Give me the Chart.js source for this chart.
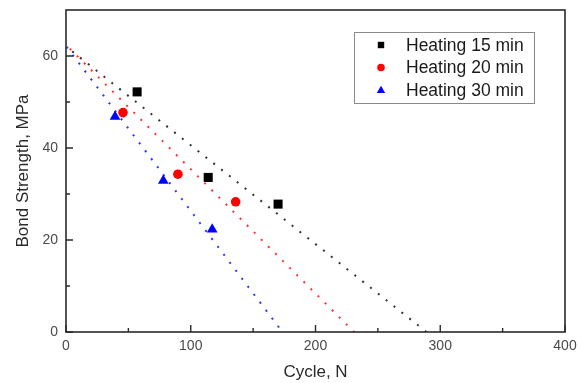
<!DOCTYPE html>
<html>
<head>
<meta charset="utf-8">
<script src="https://cdn.jsdelivr.net/npm/chart.js@4/dist/chart.umd.min.js"></script>
<style>
  html, body { margin: 0; padding: 0; background: #fff; }
  #wrap { width: 583px; height: 383px; position: relative; }
</style>
</head>
<body>
<div id="wrap"><canvas id="grafica"></canvas></div>
<script>
// measured points
var labels15 = 'Heating 15 min';
var labels20 = 'Heating 20 min';
var labels30 = 'Heating 30 min';
var ciclos15 = [57, 114, 170];
var fuerza15 = [52.2, 33.6, 27.8];
var ciclos20 = [45.7, 89.7, 136];
var fuerza20 = [47.7, 34.3, 28.3];
var ciclos30 = [39.3, 78, 117.2];
var fuerza30 = [46.8, 32.9, 22.3];
// end points of the fitted dotted lines
var ajusteX15 = [5, 289];
var ajusteY15 = [61, 0];
var ajusteX20 = [3, 231];
var ajusteY20 = [61.6, 0];
var ajusteX30 = [0.5, 173.5];
var ajusteY30 = [62, 0];
var ticksX = [0, 100, 200, 300, 400];
var ticksY = [0, 20, 40, 60];

function pares(xs, ys){
    var out = [];
    for (var i = 0; i < xs.length; i++){
        out.push({x: xs[i], y: ys[i]});
    }
    return out;
}

function serie(label, xs, ys, color, estilo, radio){
    return {
        label: label,
        data: pares(xs, ys),
        showLine: false,
        pointStyle: estilo,
        pointRadius: radio,
        pointHoverRadius: radio,
        backgroundColor: color,
        borderColor: color,
        borderWidth: 0,
        esLeyenda: true,
        order: 1
    };
}

function ajuste(xs, ys, color){
    return {
        label: '',
        data: pares(xs, ys),
        showLine: true,
        pointRadius: 0,
        borderColor: color,
        borderWidth: 2,
        borderDash: [2, 8],
        fill: false,
        order: 2
    };
}

function marcador(ctx, estilo, x, y, r, color){
    ctx.fillStyle = color;
    ctx.beginPath();
    if (estilo == 'rect'){
        ctx.rect(x - r, y - r, 2 * r, 2 * r);
    } else if (estilo == 'circle'){
        ctx.arc(x, y, r, 0, Math.PI * 2);
    } else {
        ctx.moveTo(x, y - r * 1.1);
        ctx.lineTo(x + r * 1.1, y + r * 0.8);
        ctx.lineTo(x - r * 1.1, y + r * 0.8);
        ctx.closePath();
    }
    ctx.fill();
}

// frame, inward ticks and legend box
var decoracion = {
    id: 'decoracion',
    afterDraw: function(chart){
        var ctx = chart.ctx;
        var a = chart.chartArea;
        var sx = chart.scales.x, sy = chart.scales.y;
        ctx.save();
        ctx.strokeStyle = '#2a2a2a';
        ctx.lineWidth = 1.6;
        ctx.strokeRect(a.left, a.top, a.right - a.left, a.bottom - a.top);
        ctx.lineWidth = 1.4;
        ctx.beginPath();
        for (var v = 0; v <= 400; v += 50){
            var px = sx.getPixelForValue(v);
            var l = (v % 100 == 0) ? 7 : 4;
            ctx.moveTo(px, a.bottom);
            ctx.lineTo(px, a.bottom - l);
        }
        for (var w = 0; w <= 60; w += 10){
            var py = sy.getPixelForValue(w);
            var m = (w % 20 == 0) ? 7 : 4;
            ctx.moveTo(a.left, py);
            ctx.lineTo(a.left + m, py);
        }
        ctx.stroke();

        // legend
        var bx = 354, by = 32, bw = 180, bh = 71;
        ctx.fillStyle = '#fff';
        ctx.fillRect(bx, by, bw, bh);
        ctx.strokeStyle = '#8a8a8a';
        ctx.lineWidth = 1;
        ctx.strokeRect(bx + 0.5, by + 0.5, bw, bh);
        var items = chart.data.datasets.filter(function(d){ return d.esLeyenda; });
        ctx.font = '17.5px "Liberation Sans", Arial, sans-serif';
        ctx.textBaseline = 'middle';
        ctx.textAlign = 'left';
        for (var i = 0; i < items.length; i++){
            var yy = 45 + i * 22.5;
            var r = items[i].pointStyle == 'rect' ? 3.2 : 3.8;
            marcador(ctx, items[i].pointStyle, 381, yy, r, items[i].backgroundColor);
            ctx.fillStyle = '#1a1a1a';
            ctx.fillText(items[i].label, 406, yy + 1);
        }
        ctx.restore();
    }
};

var ctx = document.getElementById('grafica').getContext('2d');
var myChart = new Chart(ctx, {
    type: 'scatter',
    data: {
        datasets: [
            serie(labels15, ciclos15, fuerza15, '#000000', 'rect', 6.4),
            serie(labels20, ciclos20, fuerza20, '#ff0000', 'circle', 4.8),
            serie(labels30, ciclos30, fuerza30, '#0000ff', 'triangle', 6.2),
            ajuste(ajusteX15, ajusteY15, '#333333'),
            ajuste(ajusteX20, ajusteY20, '#ff3333'),
            ajuste(ajusteX30, ajusteY30, '#3333ff')
        ]
    },
    options: {
        responsive: true,
        maintainAspectRatio: false,
        animation: false,
        layout: {
            padding: {top: 10, right: 18, left: 0, bottom: 0}
        },
        scales: {
            x: {
                type: 'linear',
                min: 0,
                max: 400,
                afterFit: function(scale){
                    scale.height = 51;
                    scale.paddingLeft = 0;
                    scale.paddingRight = 0;
                },
                afterBuildTicks: function(scale){
                    scale.ticks = ticksX.map(function(v){ return {value: v}; });
                },
                grid: {display: false, drawTicks: false},
                border: {display: false},
                ticks: {
                    padding: 6,
                    color: '#4a4a4a',
                    font: {family: '"Liberation Sans", Arial, sans-serif', size: 14}
                },
                title: {
                    display: true,
                    text: 'Cycle, N',
                    color: '#2a2a2a',
                    padding: {top: 0, bottom: 0},
                    font: {family: '"Liberation Sans", Arial, sans-serif', size: 17}
                }
            },
            y: {
                type: 'linear',
                min: 0,
                max: 70,
                afterFit: function(scale){
                    scale.width = 66;
                    scale.paddingTop = 0;
                    scale.paddingBottom = 0;
                },
                afterBuildTicks: function(scale){
                    scale.ticks = ticksY.map(function(v){ return {value: v}; });
                },
                grid: {display: false, drawTicks: false},
                border: {display: false},
                ticks: {
                    padding: 8,
                    color: '#4a4a4a',
                    font: {family: '"Liberation Sans", Arial, sans-serif', size: 14}
                },
                title: {
                    display: true,
                    text: 'Bond Strength, MPa',
                    color: '#2a2a2a',
                    padding: {top: 13, bottom: 0},
                    font: {family: '"Liberation Sans", Arial, sans-serif', size: 17}
                }
            }
        },
        plugins: {
            legend: {display: false},
            tooltip: {enabled: false}
        }
    },
    plugins: [decoracion]
});
</script>
</body>
</html>
